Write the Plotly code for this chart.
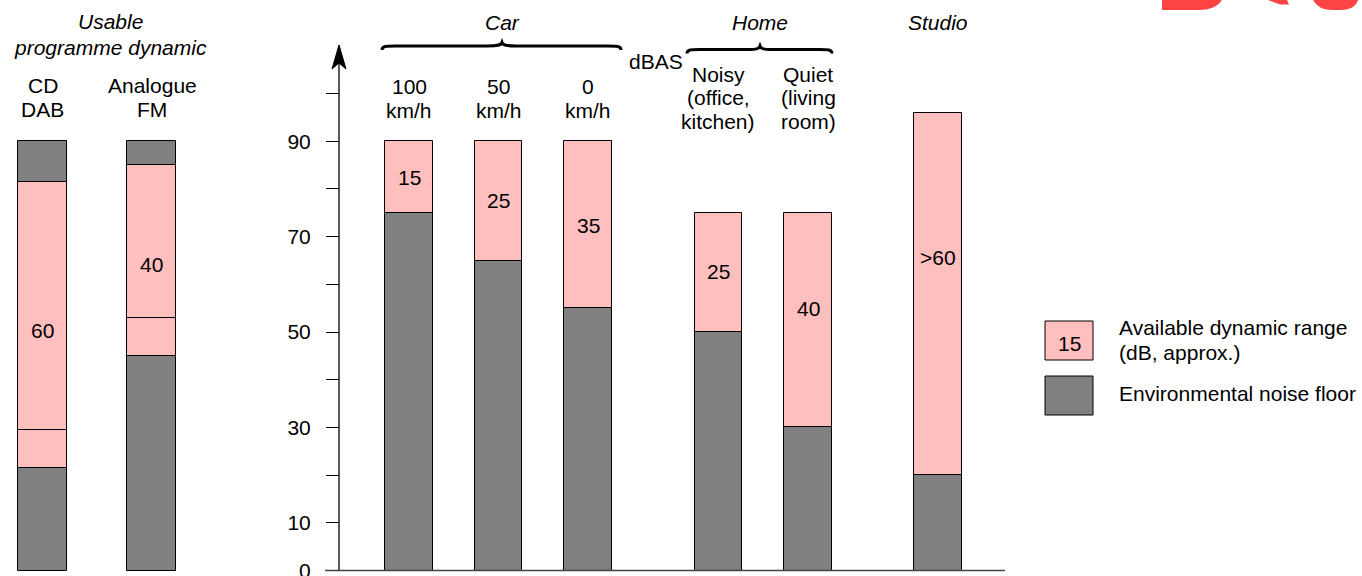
import plotly.graph_objects as go

# programme dynamic bars (left)
prog_names = ["CD DAB", "Analogue FM"]
prog_floor = [21.5, 45]
prog_mark = [29.5, 53]
prog_peak = [81.5, 85]
prog_ceiling = [90, 90]
prog_label = ["60", "40"]

# listening environments
env_names = ["100 km/h", "50 km/h", "0 km/h", "Noisy", "Quiet", "Studio"]
env_floor = [75, 65, 55, 50, 30, 20]
env_peak = [90, 90, 90, 75, 75, 96]
env_label = ["15", "25", "35", "25", "40", ">60"]

y_ticks = [0, 10, 20, 30, 40, 50, 60, 70, 80, 90, 100]
y_ticktext = ["0", "10", "", "30", "", "50", "", "70", "", "90", ""]

# layout (pixel positions on the 1362px wide canvas)
prog_x = [42.5, 151.7]
env_x = [409.2, 498.7, 588.2, 718.3, 808, 938]
prog_w = 49
env_w = 47.5
label_y = [50.4, 64.1, 82.4, 77.6, 72.4, 62.6, 55, 65.7]

GREY = "#808080"
PINK = "#ffbfbf"
FONT = "Liberation Sans, Arial, sans-serif"
FS = 21
W, H = 1362, 576
Y0_PX, PX_PER_DB = 570.5, 4.769

outline = dict(color="black", width=1)
fig = go.Figure()

# noise floor
fig.add_trace(go.Bar(x=prog_x + env_x, y=prog_floor + env_floor, base=0,
                     width=[prog_w] * 2 + [env_w] * 6,
                     marker=dict(color=GREY, line=outline)))
# available range
fig.add_trace(go.Bar(x=prog_x + env_x,
                     y=[p - f for p, f in zip(prog_peak + env_peak, prog_floor + env_floor)],
                     base=prog_floor + env_floor,
                     width=[prog_w] * 2 + [env_w] * 6,
                     marker=dict(color=PINK, line=outline)))
# inner mark inside the programme range
fig.add_trace(go.Bar(x=prog_x, y=[m - f for m, f in zip(prog_mark, prog_floor)],
                     base=prog_floor, width=prog_w,
                     marker=dict(color="rgba(0,0,0,0)", line=outline)))
# headroom above programme peak
fig.add_trace(go.Bar(x=prog_x, y=[c - p for c, p in zip(prog_ceiling, prog_peak)],
                     base=prog_peak, width=prog_w,
                     marker=dict(color=GREY, line=outline)))

for x, y, t in zip(prog_x + env_x, label_y, prog_label + env_label):
    fig.add_annotation(x=x, y=y, text=t, showarrow=False, xref="x", yref="y",
                       font=dict(size=FS, color="black", family=FONT))


def txt(x, y, t, italic=False, xanchor="center"):
    if italic:
        t = "<i>" + t + "</i>"
    fig.add_annotation(x=x, y=y, text=t, showarrow=False, xref="x", yref="y2",
                       xanchor=xanchor, yanchor="middle",
                       font=dict(size=FS, color="black", family=FONT))


txt(110, 21, "Usable", True)
txt(110, 47, "programme dynamic", True)
txt(42.5, 85.5, "CD")
txt(42.5, 109.5, "DAB")
txt(152, 85.5, "Analogue")
txt(152, 109.5, "FM")
txt(502, 22, "Car", True)
txt(760, 22, "Home", True)
txt(938, 22, "Studio", True)
for x, t in zip(env_x[:3], ["100", "50", "0"]):
    txt(x, 86, t)
    txt(x, 110, "km/h")
txt(656, 61, "dBAS")
for x, lines in zip(env_x[3:5], [["Noisy", "(office,", "kitchen)"], ["Quiet", "(living", "room)"]]):
    for yy, t in zip([74, 97.5, 121.5], lines):
        txt(x, yy, t)

# legend
fig.add_shape(type="rect", x0=1045, x1=1093, y0=321, y1=360, xref="x", yref="y2",
              fillcolor=PINK, line=outline)
fig.add_shape(type="rect", x0=1045, x1=1093, y0=376, y1=415, xref="x", yref="y2",
              fillcolor=GREY, line=outline)
txt(1069, 343, "15")
txt(1117, 327, "Available dynamic range", xanchor="left")
txt(1117, 352, "(dB, approx.)", xanchor="left")
txt(1117, 393, "Environmental noise floor", xanchor="left")

# axis line with arrow, baseline
fig.add_shape(type="line", x0=339, x1=339, y0=Y0_PX, y1=62, xref="x", yref="y2",
              line=dict(color="black", width=1.3))
fig.add_shape(type="path", path="M339,45 L346,69 L339,63 L332,69 Z", xref="x", yref="y2",
              fillcolor="black", line=dict(color="black", width=1))
fig.add_shape(type="line", x0=325, x1=1005, y0=0, y1=0, xref="x", yref="y",
              line=dict(color="#444444", width=1.6))

# braces
fig.add_shape(type="path", xref="x", yref="y2", line=dict(color="black", width=3),
              path="M382,50 C382,46 386,46 395,46 L488,46 C497,46 501,45.5 502,42.5 "
                   "C503,45.5 507,46 516,46 L608,46 C617,46 621,46 621,50")
fig.add_shape(type="path", xref="x", yref="y2", line=dict(color="black", width=3),
              path="M687,53.5 C687,49.5 691,49.5 700,49.5 L748,49.5 C756,49.5 759,49 760,46 "
                   "C761,49 764,49.5 772,49.5 L819,49.5 C828,49.5 832,49.5 832,53.5")

# DAB logo fragment at the top edge
logo = dict(xref="x", yref="y2", fillcolor="#ff4444", line=dict(width=0))
fig.add_shape(type="path", path="M1162,0 L1162,10 L1198,10 Q1216,10 1222,0 Z", **logo)
fig.add_shape(type="path", path="M1268,0 L1280,4.5 L1289,4.5 L1287,0 Z", **logo)
fig.add_shape(type="path", path="M1313,0 Q1318,10 1333,10 L1340,10 Q1355,10 1358,0 Z", **logo)

fig.update_layout(
    width=W, height=H, template="none",
    margin=dict(l=0, r=0, t=0, b=0, pad=0),
    paper_bgcolor="white", plot_bgcolor="white",
    showlegend=False, barmode="overlay", bargap=0,
    xaxis=dict(range=[0, W], visible=False, fixedrange=True),
    yaxis=dict(range=[-(H - Y0_PX) / PX_PER_DB, Y0_PX / PX_PER_DB],
               anchor="free", position=339 / W, automargin=False,
               showline=False, showgrid=False, zeroline=False,
               ticks="outside", ticklen=13, tickwidth=1, tickcolor="black",
               tickvals=y_ticks, ticktext=y_ticktext, ticklabelstandoff=11,
               ticklabeloverflow="allow",
               tickfont=dict(size=FS, color="black", family=FONT)),
    yaxis2=dict(range=[H, 0], overlaying="y", visible=False),
)

# page body margin would push the figure 8px off the canvas
fig.write_html("out.html", config={"displayModeBar": False},
               post_script="document.body.style.margin='0px';")
